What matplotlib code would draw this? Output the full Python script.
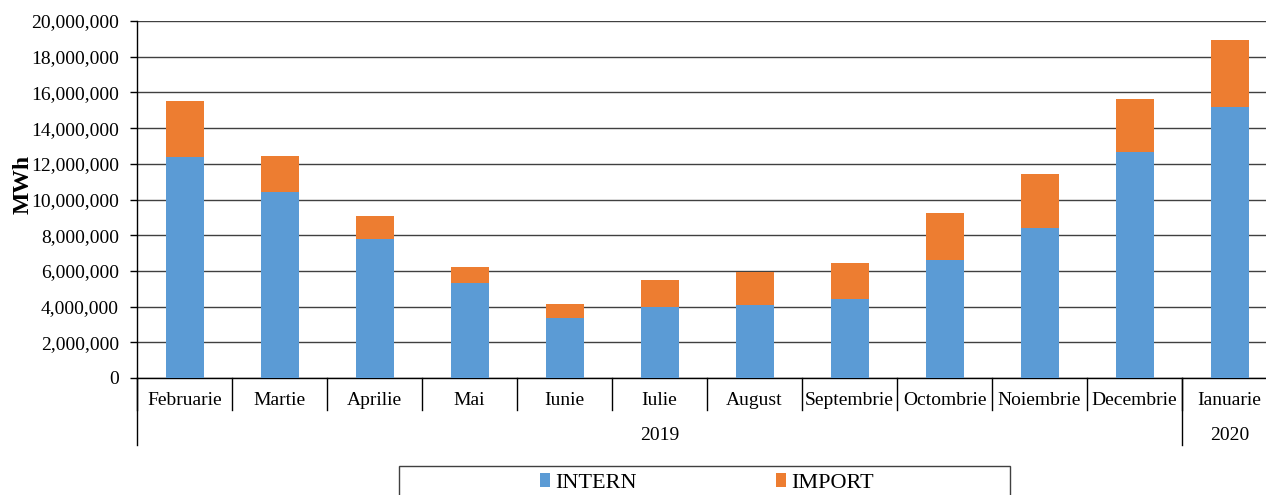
import numpy as np
import matplotlib.pyplot as plt
from matplotlib.patches import Rectangle
from matplotlib.ticker import FuncFormatter

plt.rcParams['font.family'] = 'Liberation Serif'

months = ['Februarie', 'Martie', 'Aprilie', 'Mai', 'Iunie', 'Iulie', 'August',
          'Septembrie', 'Octombrie', 'Noiembrie', 'Decembrie', 'Ianuarie']
years = ['2019', '2020']
year_span = [11, 1]  # number of months under each year
intern = [12.36, 10.44, 7.79, 5.30, 3.34, 3.98, 4.07, 4.44, 6.61, 8.42, 12.64, 15.20]
total = [15.50, 12.45, 9.06, 6.24, 4.13, 5.51, 5.96, 6.44, 9.26, 11.41, 15.61, 18.95]

intern = np.array(intern) * 1e6
imp = np.array(total) * 1e6 - intern

blue = '#5b9bd5'
orange = '#ed7d31'

W, H = 1266, 495
fig = plt.figure(figsize=(W / 100, H / 100), dpi=100)
# the plot area runs past the right edge of the picture, like the original
ax = fig.add_axes([137 / W, 117 / H, 1140 / W, 357 / H])

x = np.arange(len(months))
ax.bar(x, intern, width=0.4, color=blue, zorder=3, label='INTERN')
ax.bar(x, imp, width=0.4, bottom=intern, color=orange, zorder=3, label='IMPORT')

ax.set_xlim(-0.5, len(months) - 0.5)
ax.set_ylim(0, 20e6)
ax.set_yticks(np.arange(0, 20.1e6, 2e6))
ax.yaxis.set_major_formatter(FuncFormatter(lambda v, p: f'{int(v):,}'))
ax.yaxis.grid(True, color='#404040', lw=1, zorder=0)
ax.tick_params(axis='y', length=5, width=1, direction='out', labelsize=14, pad=8)
ax.set_xticks([])
for s in ['top', 'right']:
    ax.spines[s].set_visible(False)
ax.spines['left'].set_linewidth(1)
ax.spines['bottom'].set_linewidth(1)
fig.text(23 / W, 1 - 184 / H, 'MWh', rotation=90, ha='center', va='center',
         fontsize=17, fontweight='bold')

# category labels with separators
tr = ax.get_xaxis_transform()
for i, m in enumerate(months):
    ax.text(i, -0.063, m, transform=tr, ha='center', va='center', fontsize=14)
for i in range(len(months)):
    ax.plot([i - 0.5, i - 0.5], [0, -0.09], color='black', lw=1,
            transform=tr, clip_on=False)

start = 0
for yr, n in zip(years, year_span):
    ax.text(start + (n - 1) / 2, -0.16, yr, transform=tr, ha='center',
            va='center', fontsize=14)
    ax.plot([start - 0.5, start - 0.5], [0, -0.188], color='black', lw=1,
            transform=tr, clip_on=False)
    start += n

# legend box (cut by the bottom edge)
fig.patches.append(Rectangle((399 / W, -0.05), 611 / W, 0.05 + 29 / H,
                             transform=fig.transFigure, fill=False,
                             edgecolor='#404040', lw=1))
fig.legend(loc='center', bbox_to_anchor=(707 / W, 12 / H), ncol=2,
           frameon=False, fontsize=16, handlelength=0.45, handleheight=0.6,
           handletextpad=0.2, columnspacing=6.3, borderpad=0.1)

fig.savefig('out.png', dpi=100)
